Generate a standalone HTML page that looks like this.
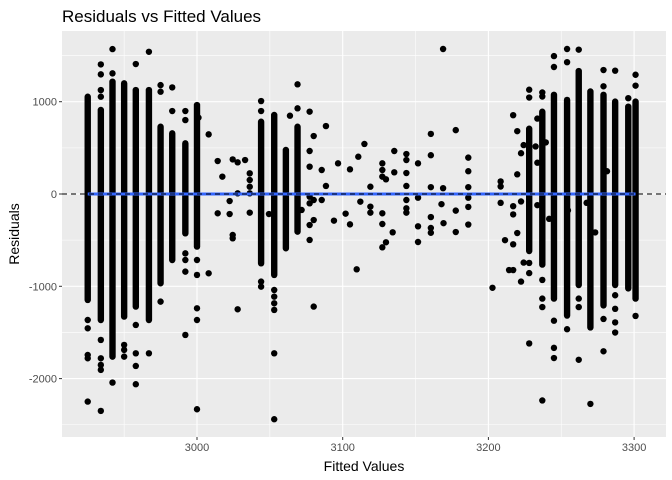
<!DOCTYPE html>
<html><head><meta charset="utf-8"><style>
body{margin:0;background:#fff}
svg{display:block;font-family:"Liberation Sans",Arial,sans-serif}
</style></head><body>
<svg id="chart" width="672" height="480" viewBox="0 0 672 480">
<text x="62" y="22" font-size="17" fill="#000">Residuals vs Fitted Values</text>
<rect x="62" y="31" width="604" height="406" fill="#EBEBEB"/>
<g id="grid"></g><g id="marks"></g><g id="axes"></g>
<text x="364" y="471" font-size="14" text-anchor="middle" fill="#000">Fitted Values</text>
<text transform="translate(19,234) rotate(-90)" font-size="14" text-anchor="middle" fill="#000">Residuals</text>
</svg>
<script>
const xTicks=[3000,3100,3200,3300];
const xMinor=[2950,3050,3150,3250];
const yTicks=[1000,0,-1000,-2000];
const yMinor=[1500,500,-500,-1500,-2500];
const colFitted=[2925,2934,2942,2950,2958,2967,2975,2983,2992,3000,3044,3053,3061,3069,3228,3237,3245,3254,3262,3270,3279,3287,3296,3301];
const colHi=[1054,910,1217,1199,1126,1126,729,657,549,964,783,856,477,729,707,891,1075,1019,1332,1111,1075,1001,946,1001];
const colLo=[-1148,-1365,-1762,-1328,-1220,-1365,-967,-715,-426,-570,-751,-877,-588,-408,-618,-765,-1133,-1317,-986,-1446,-1207,-986,-1023,-1133];
const outFitted=[2925,2925,2925,2925,2925,2934,2934,2934,2934,2934,2934,2934,2934,2934,2942,2942,2942,2950,2950,2950,2958,2958,2958,2958,2958,2967,2967,2975,2975,2975,2983,2983,2992,2992,2992,2992,2992,2992,3000,3000,3000,3000,3000,3001,3008,3008,
3044,3044,3044,3044,3053,3053,3053,3053,3053,3053,3069,3069,
3014.2,3014.2,3017.4,3022.4,3022.4,3024.5,3024.5,3024.5,3027.9,3027.9,3027.9,3033,3036.2,3036.2,3036.2,3036.2,3036.2,3049.4,3063.8,3071.8,3077.3,3077.3,3077.3,3077.3,3077.3,3077.3,3077.3,3080.1,3080.1,3080.1,3080.1,3085.6,3085.6,3088.5,3088.5,3094,3096.8,3102,3105,3105,3109.6,3110.7,3112.1,3114.9,3119,3119,3119,3127.2,3127.2,3127.2,3127.2,3127.2,3127.2,3129.7,3129.7,3134.3,3135.4,3135.4,3143.7,3143.7,3143.7,3143.7,3143.7,3143.7,3143.7,3151.7,3151.7,3151.7,3151.7,
3160.5,3160.5,3160.5,3160.5,3160.5,3160.5,3168.9,3168.9,3167.8,3169.2,3177.6,3177.6,3177.6,3186.2,3186.2,3186.2,3186.2,3186.2,3186.2,3202.8,3208.4,3208.4,3208.4,3211.4,3217,3217,3217,3217,3214.2,3217,3219.8,3219.8,3219.8,3222.4,3222.4,3222.4,3224.2,3224.2,3232.4,3233.6,3233.6,3233.6,3241.7,3281.4,3267.4,3273.3,3254.6,3239.4,
3228,3228,3228,3228,3228,3237,3237,3237,3237,3237,3237,3245,3245,3245,3245,3245,3254,3254,3254,3262,3262,3262,3262,3270,3279,3279,3279,3279,3287,3287,3287,3287,3287,3296,3301,3301,3301];
const outResid=[-1365,-1455,-1744,-1780,-2249,1404,1296,1126,1054,-1581,-1780,-1852,-1906,-2350,1570,1307,-2043,-1635,-1689,-1762,1408,-1419,-1726,-1863,-2061,1541,-1726,1180,1108,-1166,1155,899,899,801,-643,-715,-841,-1527,-715,-877,-1238,-1365,-2332,827,646,-859,
1007,899,-949,-1004,-1040,-1112,-1184,-1256,-1726,-2440,1188,928,
357,-209,188,-76,-217,-444,-480,375,343,-1249,7,368,224,152,79,7,-202,-217,848,-173,892,466,296,-29,-101,-336,-498,628,-282,-1220,-65,260,-65,736,87,-289,332,-213,267,-329,-816,404,-83,542,79,-137,-202,332,260,188,-209,-325,-578,159,-523,-415,466,235,433,368,227,87,-65,-155,-202,332,-40,-350,-520,
651,420,74,-250,-368,-420,1571,63,-110,-316,692,-180,-412,394,247,74,-40,-140,-331,-1016,136,81,-96,-500,854,-132,-221,-545,-824,-824,681,213,-423,442,-81,-949,530,-743,515,817,339,-121,-269,247,-96,-416,-177,559,
1130,1045,-747,-857,-1619,1100,1056,-931,-1133,-1225,-2237,1494,1376,-1373,-1667,-1777,1571,1428,-1465,1564,-1133,-1225,-1796,-2274,1343,1167,-1354,-1704,1336,-1097,-1244,-1391,-1501,1038,1292,1174,-1321];
const fitStart=2925, fitEnd=3301;

const NS='http://www.w3.org/2000/svg';
const PL=62,PR=666,PT=31,PB=437;
function xs(v){return 197+(v-3000)*1.457;}
function ys(v){return 194-v*0.0923;}
function mk(tag,parent,attrs){const e=document.createElementNS(NS,tag);for(const k in attrs)e.setAttribute(k,attrs[k]);parent.appendChild(e);return e;}
const grid=document.getElementById('grid'),marks=document.getElementById('marks'),axes=document.getElementById('axes');
xMinor.forEach(v=>{const l=mk('line',grid,{x1:xs(v),x2:xs(v),y1:PT,y2:PB,stroke:'#fff','stroke-width':0.55});

});
yMinor.forEach(v=>{const l=mk('line',grid,{x1:PL,x2:PR,y1:ys(v),y2:ys(v),stroke:'#fff','stroke-width':0.55});

});
xTicks.forEach(v=>{const l=mk('line',grid,{x1:xs(v),x2:xs(v),y1:PT,y2:PB,stroke:'#fff','stroke-width':1.1});


const t=mk('line',axes,{x1:xs(v),x2:xs(v),y1:PB,y2:PB+3,stroke:'#333','stroke-width':1});


const tx=mk('text',axes,{x:xs(v),y:PB+14,'font-size':11,'text-anchor':'middle',fill:'#4D4D4D'});tx.textContent=v;

});
yTicks.forEach(v=>{const l=mk('line',grid,{x1:PL,x2:PR,y1:ys(v),y2:ys(v),stroke:'#fff','stroke-width':1.1});


const t=mk('line',axes,{x1:PL-3,x2:PL,y1:ys(v),y2:ys(v),stroke:'#333','stroke-width':1});


const tx=mk('text',axes,{x:PL-5,y:ys(v)+4,'font-size':11,'text-anchor':'end',fill:'#4D4D4D'});tx.textContent=v;

});
colFitted.forEach((f,i)=>{const l=mk('line',marks,{x1:xs(f),x2:xs(f),y1:ys(colHi[i]),y2:ys(colLo[i]),stroke:'#000','stroke-width':6.4,'stroke-linecap':'round'});

});
outFitted.forEach((f,i)=>{const c=mk('circle',marks,{cx:xs(f),cy:ys(outResid[i]),r:3.2,fill:'#000'});

});
const fl=mk('line',marks,{x1:xs(fitStart),x2:xs(fitEnd),y1:ys(0),y2:ys(0),stroke:'#3366FF','stroke-width':3});


const zl=mk('line',marks,{x1:PL,x2:PR,y1:ys(0),y2:ys(0),stroke:'#000','stroke-width':1,'stroke-dasharray':'5,4'});


</script>
</body></html>
